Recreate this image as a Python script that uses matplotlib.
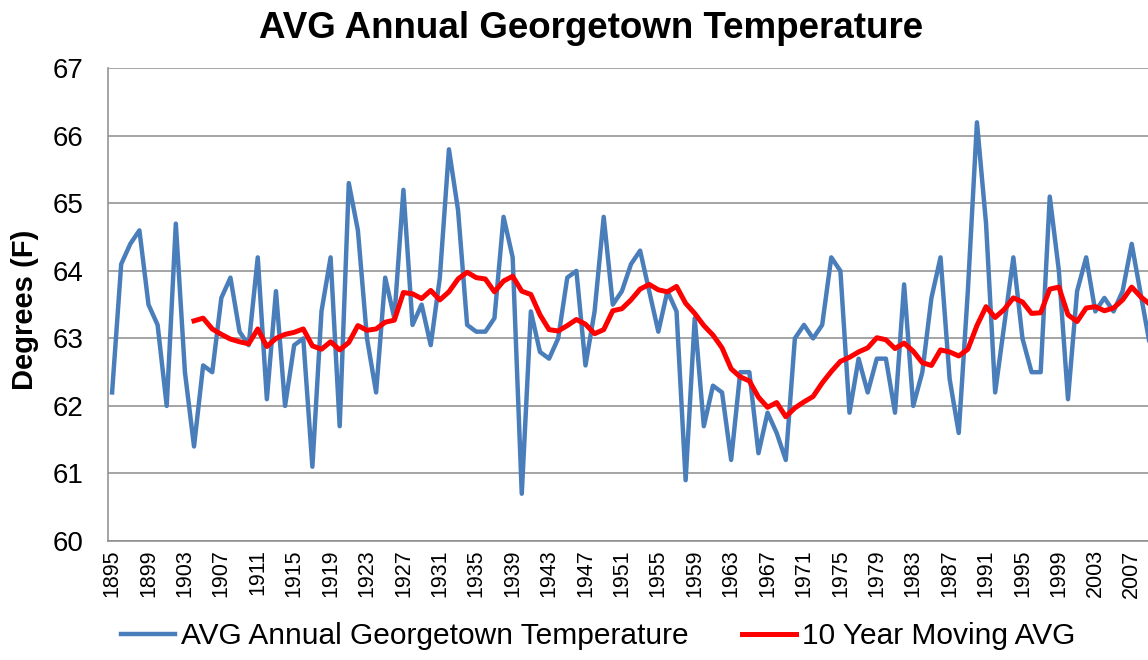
import matplotlib
matplotlib.use("Agg")
import matplotlib.pyplot as plt
import numpy as np
import pandas as pd

plt.rcParams['font.family'] = ['Liberation Sans', 'DejaVu Sans']

years = list(range(1895, 2010))
temps = [
    62.2, 64.1, 64.4, 64.6, 63.5, 63.2, 62.0, 64.7, 62.5, 61.4,   # 1895-1904
    62.6, 62.5, 63.6, 63.9, 63.1, 62.9, 64.2, 62.1, 63.7, 62.0,   # 1905-1914
    62.9, 63.0, 61.1, 63.4, 64.2, 61.7, 65.3, 64.6, 63.0, 62.2,   # 1915-1924
    63.9, 63.3, 65.2, 63.2, 63.5, 62.9, 63.9, 65.8, 64.9, 63.2,   # 1925-1934
    63.1, 63.1, 63.3, 64.8, 64.2, 60.7, 63.4, 62.8, 62.7, 63.0,   # 1935-1944
    63.9, 64.0, 62.6, 63.4, 64.8, 63.5, 63.7, 64.1, 64.3, 63.7,   # 1945-1954
    63.1, 63.7, 63.4, 60.9, 63.3, 61.7, 62.3, 62.2, 61.2, 62.5,   # 1955-1964
    62.5, 61.3, 61.9, 61.6, 61.2, 63.0, 63.2, 63.0, 63.2, 64.2,   # 1965-1974
    64.0, 61.9, 62.7, 62.2, 62.7, 62.7, 61.9, 63.8, 62.0, 62.5,   # 1975-1984
    63.6, 64.2, 62.4, 61.6, 63.7, 66.2, 64.7, 62.2, 63.2, 64.2,   # 1985-1994
    63.0, 62.5, 62.5, 65.1, 64.0, 62.1, 63.7, 64.2, 63.4, 63.6,   # 1995-2004
    63.4, 63.7, 64.4, 63.65, 62.9,                                # 2005-2009
]
tick_years = list(range(1895, 2008, 4))
y_ticks = [60, 61, 62, 63, 64, 65, 66, 67]

title = "AVG Annual Georgetown Temperature"
series_label = "AVG Annual Georgetown Temperature"
ma_label = "10 Year Moving AVG"
ylabel = "Degrees (F)"
ma_window = 10

moving_avg = pd.Series(temps, index=years).rolling(ma_window).mean()

fig = plt.figure(figsize=(11.48, 6.60), dpi=100)
ax = fig.add_axes([108/1148, 119/660, 1 - 108/1148, (541 - 68.3)/660])

grid_c = '#8c8c8c'
ax.set_ylim(60, 67)
ax.set_xlim(1894.55, 2008.79)
ax.set_yticks(y_ticks)
ax.set_xticks(tick_years)
ax.set_xticklabels([str(y) for y in tick_years], rotation=90, fontsize=15.5)
ax.tick_params(axis='x', length=0, pad=6)
ax.tick_params(axis='y', length=0, pad=18, labelsize=20)
ax.yaxis.grid(True, color=grid_c, linewidth=1.1)
ax.set_axisbelow(True)
for s in ['top', 'right']:
    ax.spines[s].set_visible(False)
for s in ['left', 'bottom']:
    ax.spines[s].set_color(grid_c)
    ax.spines[s].set_linewidth(1.1)

l1, = ax.plot(years, temps, color='#4A7EBB', linewidth=3.2, solid_joinstyle='round', label=series_label)
l2, = ax.plot(moving_avg.index, moving_avg.values, color='#FF0000', linewidth=3.6,
              solid_joinstyle='round', label=ma_label)

fig.text(591/1148, 1 - 28/660, title, ha='center', va='center', fontsize=26.5, fontweight='bold')
fig.text(25/1148, 1 - 310/660, ylabel, ha='center', va='center', rotation=90,
         fontsize=21, fontweight='bold')

fig.legend(handles=[l1, l2], loc='center', bbox_to_anchor=(598/1148, 1 - 636/660),
           ncol=2, frameon=False, fontsize=21.5, handlelength=1.8, handletextpad=0.2,
           columnspacing=1.8, borderpad=0, borderaxespad=0)

fig.savefig('out.png', dpi=100)
